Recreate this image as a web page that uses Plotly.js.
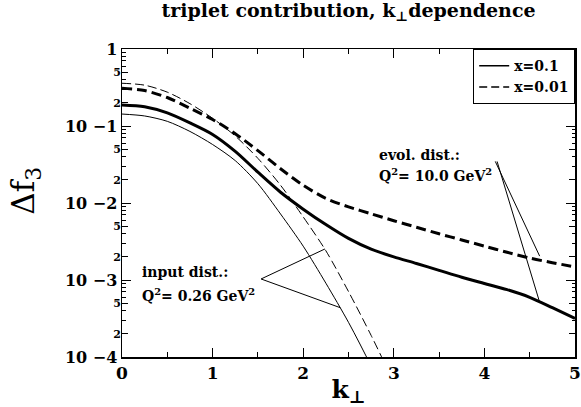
<!DOCTYPE html>
<html>
<head>
<meta charset="utf-8">
<script src="https://cdn.plot.ly/plotly-3.0.1.min.js"></script>
<style>html,body{margin:0;padding:0;background:#fff;}#plot{width:581px;height:407px;}</style>
</head>
<body>
<div id="plot"></div>
<script>
// k_perp grid
var kGrid = [0, 0.25, 0.5, 0.75, 1.0, 1.25, 1.5, 1.75, 2.0, 2.25, 2.5, 2.75, 3.0, 3.25, 3.5, 3.75, 4.0, 4.25, 4.5, 4.75, 5.0];
// evolved distribution, Q^2 = 10 GeV^2
var evolX01  = [0.1875, 0.1778, 0.1479, 0.1096, 0.07762, 0.04677, 0.02512, 0.01380, 0.008318, 0.005248, 0.003467, 0.002512, 0.001995, 0.001641, 0.001334, 0.001084, 0.0009016, 0.0007499, 0.0005957, 0.0004365, 0.0003162];
var evolX001 = [0.309, 0.2884, 0.2344, 0.1698, 0.1216, 0.07943, 0.04786, 0.02786, 0.01698, 0.01148, 0.008913, 0.007244, 0.005888, 0.004842, 0.003981, 0.003311, 0.002754, 0.002291, 0.001928, 0.001679, 0.001479];
// input distribution, Q^2 = 0.26 GeV^2
var kInput   = [0, 0.25, 0.5, 0.75, 1.0, 1.25, 1.5, 1.75, 2.0, 2.25, 2.5, 2.75, 3.0];
var inX01    = [0.143, 0.135, 0.115, 0.085, 0.0575, 0.0355, 0.0178, 0.0072, 0.00275, 0.00091, 0.0002818, 0.00007586, 0.00001778];
var inX001   = [0.359, 0.339, 0.275, 0.195, 0.126, 0.0741, 0.038, 0.017, 0.0066, 0.0024, 0.000708, 0.0001905, 0.0000468];
// tick labels
var xTicks = [0, 1, 2, 3, 4, 5];
var yMajorVals = [1, 0.1, 0.01, 0.001, 0.0001];
var yMajorText = ["1", "10 \u22121", "10 \u22122", "10 \u22123", "10 \u22124"];
var yMidVals = [0.5, 0.2, 0.05, 0.02, 0.005, 0.002, 0.0005, 0.0002];
var yMidText = ["5", "2", "5", "2", "5", "2", "5", "2"];
var yMinorVals = [];
[1e-4, 1e-3, 1e-2, 1e-1].forEach(function (d) {
  [3, 4, 6, 7, 8, 9].forEach(function (m) { yMinorVals.push(d * m); });
});

var FONT = "DejaVu Serif, Liberation Serif, serif";

var traces = [
  {x: kGrid, y: evolX01, mode: "lines", line: {color: "#000", width: 3, shape: "spline", smoothing: 0.8}, showlegend: false},
  {x: kGrid, y: evolX001, mode: "lines", line: {color: "#000", width: 3, dash: "10px,5px", shape: "spline", smoothing: 0.8}, showlegend: false},
  {x: kInput, y: inX01, mode: "lines", line: {color: "#000", width: 1, shape: "spline", smoothing: 0.8}, showlegend: false},
  {x: kInput, y: inX001, mode: "lines", line: {color: "#000", width: 1, dash: "9px,4px", shape: "spline", smoothing: 0.8}, showlegend: false},
  {x: [null], y: [null], mode: "lines", name: "x=0.1", line: {color: "#000", width: 1.5}},
  {x: [null], y: [null], mode: "lines", name: "x=0.01", line: {color: "#000", width: 1.5, dash: "8px,4px"}},
  {x: [null], y: [null], yaxis: "y2", mode: "lines", showlegend: false, hoverinfo: "skip"},
  {x: [null], y: [null], yaxis: "y3", mode: "lines", showlegend: false, hoverinfo: "skip"}
];

var axLine = {showline: true, linecolor: "#000", linewidth: 1.5, mirror: "ticks", showgrid: false, zeroline: false};

// pointer lines (paper coordinates)
function pLine(x0, y0, x1, y1) {
  return {type: "line", xref: "paper", yref: "paper", x0: x0, y0: y0, x1: x1, y1: y1, line: {color: "#000", width: 1}};
}

var layout = {
  width: 581, height: 407,
  margin: {l: 122, r: 6, t: 49, b: 50},
  paper_bgcolor: "#fff", plot_bgcolor: "#fff",
  font: {family: FONT, color: "#000"},
  title: {text: "triplet contribution, k<sub>\u22a5</sub>dependence", x: 0.5, xref: "paper", y: 0.99, yanchor: "top",
          font: {family: FONT, size: 19, color: "#000", weight: "bold"}},
  showlegend: true,
  legend: {x: 1, y: 1, xanchor: "right", yanchor: "top", bordercolor: "#000", borderwidth: 1.2, bgcolor: "#fff",
           font: {family: FONT, size: 14, color: "#000", weight: "bold"}, tracegroupgap: 0},
  xaxis: Object.assign({}, axLine, {
    range: [0, 5], tickvals: xTicks, ticktext: xTicks.map(String),
    ticks: "inside", ticklen: 9, tickwidth: 1, tickcolor: "#000",
    tickfont: {family: FONT, size: 17, weight: "bold"},
    minor: {dtick: 0.5, ticks: "inside", ticklen: 5, tickwidth: 1, tickcolor: "#000", showgrid: false},
    title: {text: "k<sub>\u22a5</sub>", font: {family: FONT, size: 25, weight: "bold"}, standoff: 10}
  }),
  yaxis: Object.assign({}, axLine, {
    type: "log", range: [-4, 0], autorange: false, tickvals: yMajorVals, ticktext: yMajorText,
    ticks: "inside", ticklen: 9, tickwidth: 1, tickcolor: "#000",
    tickfont: {family: FONT, size: 16, weight: "bold"}
  }),
  yaxis2: {
    type: "log", range: [-4, 0], autorange: false, overlaying: "y", anchor: "x", side: "left",
    tickvals: yMidVals, ticktext: yMidText, ticks: "inside", ticklen: 6, tickwidth: 1, tickcolor: "#000",
    tickfont: {family: FONT, size: 11, weight: "bold"}, showline: false, showgrid: false, zeroline: false, mirror: "ticks"
  },
  yaxis3: {
    type: "log", range: [-4, 0], autorange: false, overlaying: "y", anchor: "x", side: "left",
    tickvals: yMinorVals, ticks: "inside", ticklen: 3.5, tickwidth: 1, tickcolor: "#000",
    showticklabels: false, showline: false, showgrid: false, zeroline: false, mirror: "ticks"
  },
  annotations: [
    {xref: "paper", yref: "paper", x: -0.212, y: 0.54, xanchor: "center", yanchor: "middle", showarrow: false, textangle: -90,
     text: "\u0394f<sub>3</sub>", font: {family: FONT, size: 31}},
    {xref: "paper", yref: "paper", x: 0.563, y: 0.655, xanchor: "left", yanchor: "middle", align: "left", showarrow: false,
     text: "evol. dist.:", font: {family: FONT, size: 14, weight: "bold"}},
    {xref: "paper", yref: "paper", x: 0.563, y: 0.59, xanchor: "left", yanchor: "middle", align: "left", showarrow: false,
     text: "Q<sup>2</sup>= 10.0 GeV<sup>2</sup>", font: {family: FONT, size: 14, weight: "bold"}},
    {xref: "paper", yref: "paper", x: 0.04, y: 0.277, xanchor: "left", yanchor: "middle", align: "left", showarrow: false,
     text: "input dist.:", font: {family: FONT, size: 14, weight: "bold"}},
    {xref: "paper", yref: "paper", x: 0.04, y: 0.2, xanchor: "left", yanchor: "middle", align: "left", showarrow: false,
     text: "Q<sup>2</sup>= 0.26 GeV<sup>2</sup>", font: {family: FONT, size: 14, weight: "bold"}}
  ],
  shapes: [
    pLine(0.307, 0.2533, 0.448, 0.3508),
    pLine(0.307, 0.2533, 0.482, 0.160),
    pLine(0.824, 0.635, 0.922, 0.3275),
    pLine(0.828, 0.635, 0.922, 0.1775)
  ]
};

Plotly.newPlot("plot", traces, layout, {displayModeBar: false, staticPlot: true});
</script>
</body>
</html>
